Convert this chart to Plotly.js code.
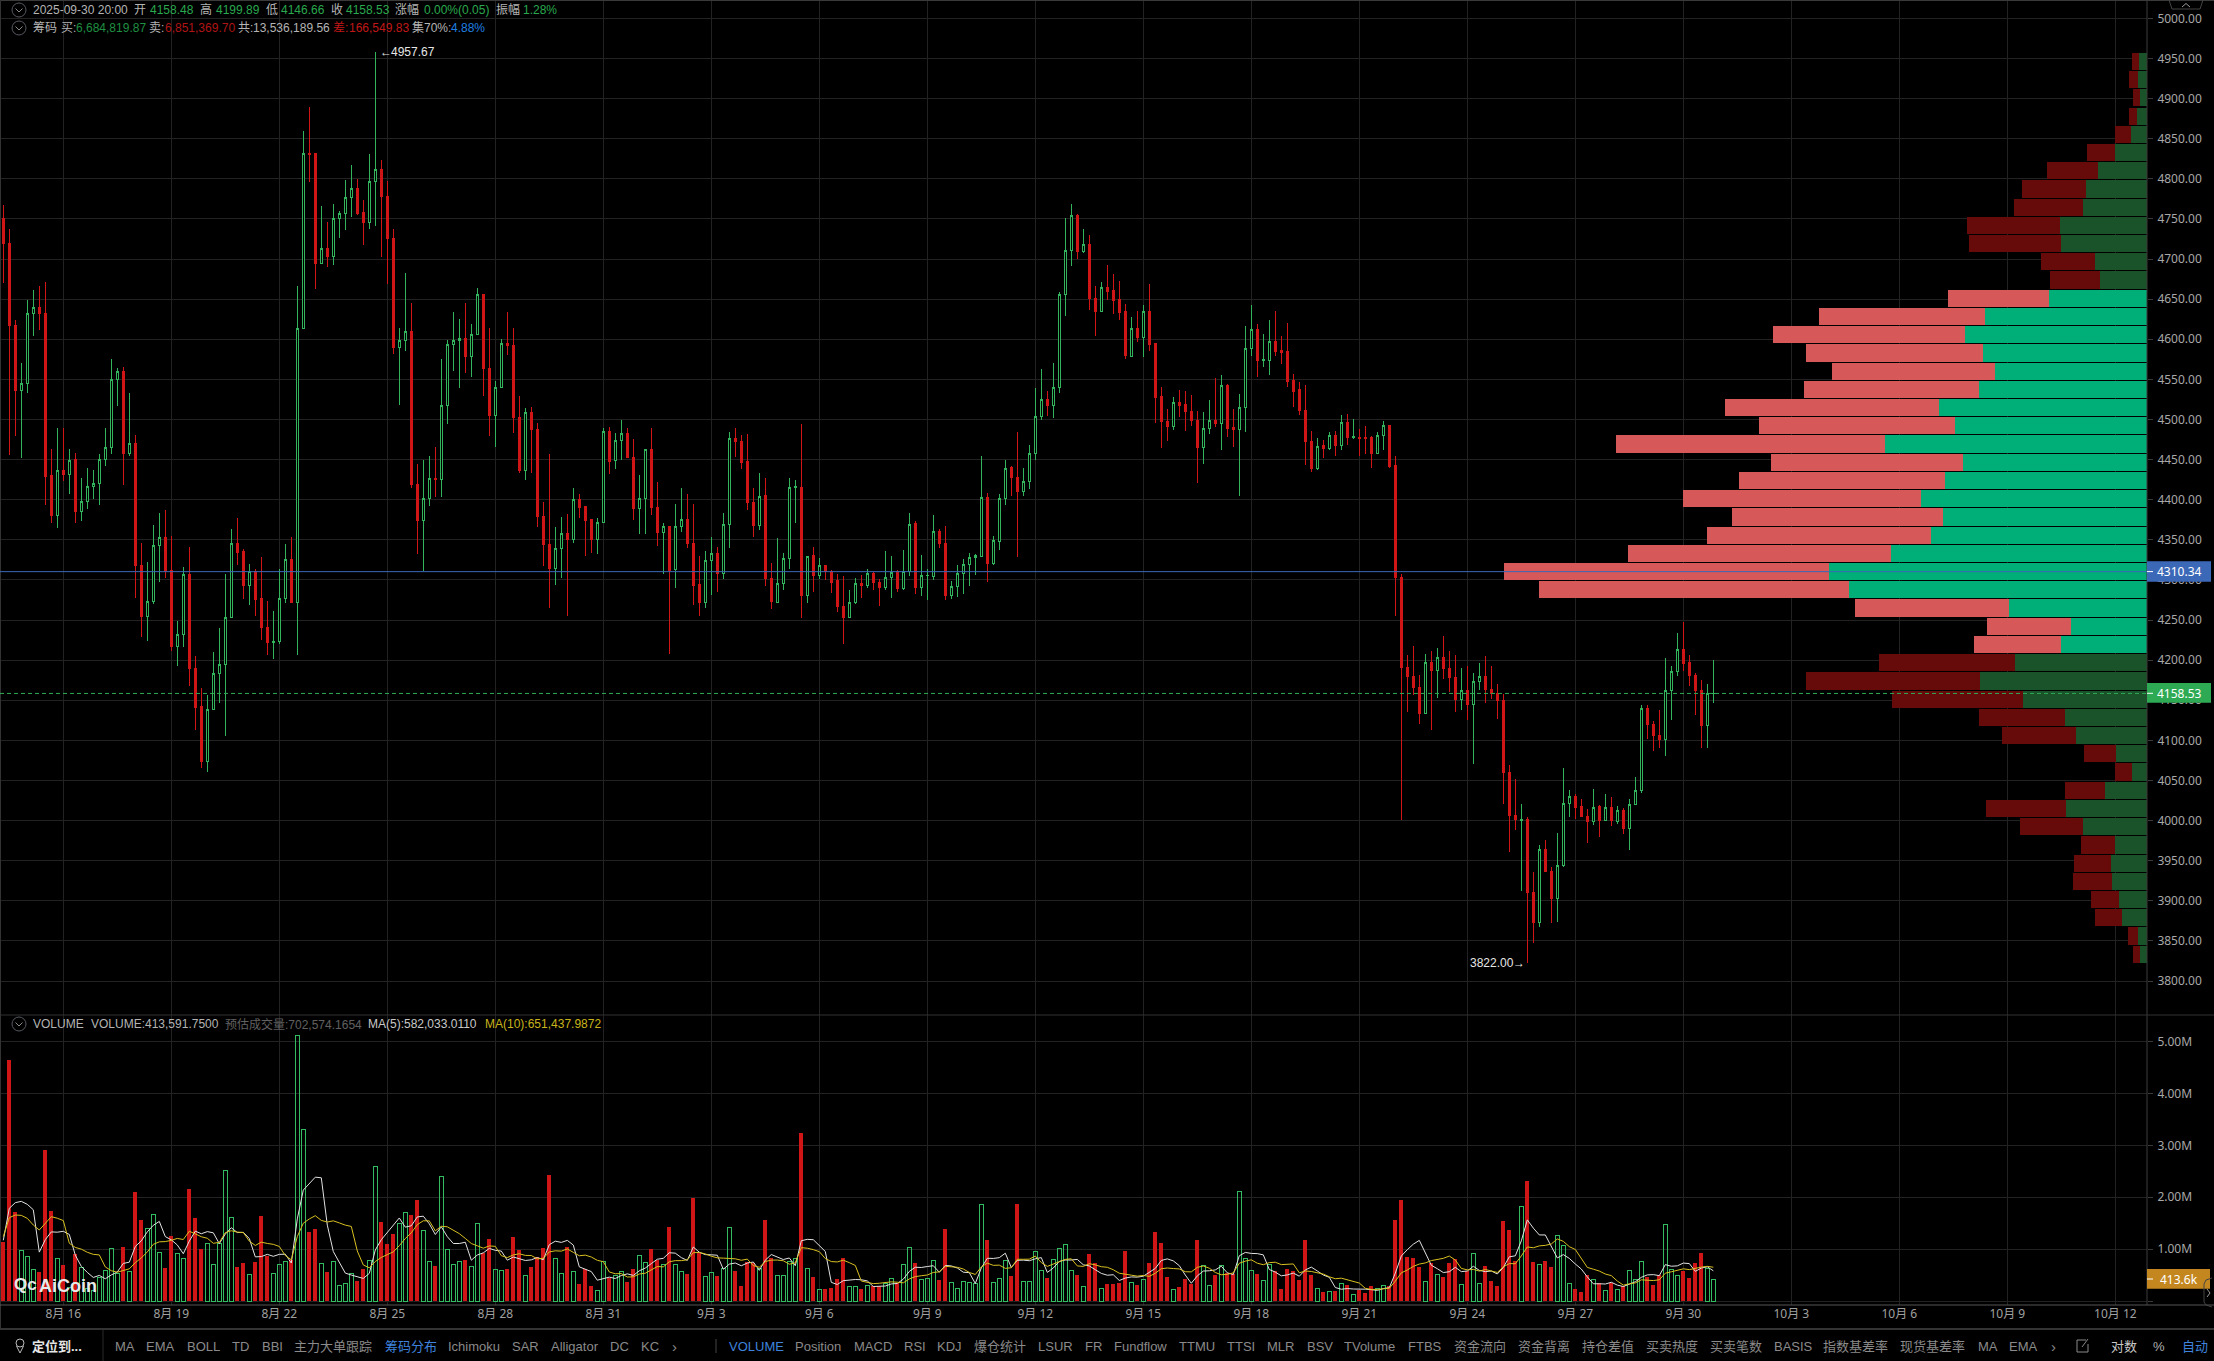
<!DOCTYPE html>
<html><head><meta charset="utf-8">
<script src="https://cdn.plot.ly/plotly-3.0.1.min.js"></script>
<style>html,body{margin:0;padding:0;background:#000;overflow:hidden}
.boxlayer path{shape-rendering:crispEdges !important}
.barlayer path{shape-rendering:crispEdges !important}</style>
</head><body><div id="chart" style="width:2214px;height:1361px"></div>
<script>
const opens=[
4750,4720,4617,4536,4545,4632,4640,4632,4430,4380,
4437,4431,4450,4385,4398,4417,4420,4450,4465,4550,
4560,4457,4470,4318,4254,4273,4343,4353,4312,4217,
4232,4307,4190,4142,4074,4138,4184,4194,4253,4345,
4335,4293,4310,4277,4241,4222,4223,4277,4326,4272,
4613,4832,4831,4694,4713,4703,4750,4757,4777,4788,
4758,4745,4797,4812,4778,4726,4590,4599,4610,4419,
4374,4401,4427,4425,4517,4594,4599,4601,4578,4606,
4656,4564,4505,4540,4595,4592,4503,4436,4509,4488,
4379,4344,4314,4339,4358,4350,4400,4391,4375,4351,
4372,4485,4449,4474,4483,4453,4389,4402,4462,4390,
4359,4367,4313,4366,4375,4346,4294,4272,4324,4333,
4308,4369,4476,4473,4448,4397,4368,4405,4302,4272,
4296,4327,4415,4415,4280,4330,4305,4318,4311,4299,
4267,4253,4272,4295,4293,4308,4297,4290,4303,4310,
4289,4310,4370,4290,4305,4304,4361,4346,4281,4292,
4308,4319,4328,4329,4403,4320,4348,4402,4440,4428,
4410,4423,4457,4504,4525,4518,4540,4656,4711,4754,
4709,4718,4651,4635,4665,4661,4649,4634,4579,4614,
4602,4635,4595,4529,4498,4491,4521,4519,4510,4499,
4465,4489,4499,4495,4543,4490,4488,4515,4588,4612,
4574,4574,4597,4586,4585,4548,4537,4511,4473,4439,
4467,4464,4480,4468,4496,4477,4478,4478,4477,4458,
4480,4493,4443,4303,4191,4180,4166,4134,4197,4187,
4203,4190,4179,4151,4162,4145,4174,4180,4163,4158,
4150,4060,4007,4000,4001,3911,3873,3964,3937,3903,
3944,4021,4030,4017,4005,3999,4017,4000,4016,3999,
4013,3990,4020,4038,4140,4120,4106,4101,4162,4186,
4213,4197,4181,4162,4118,4158.48];
const closes=[
4720,4617,4536,4545,4632,4640,4632,4429,4380,4437,
4431,4449,4385,4398,4417,4420,4450,4465,4550,4560,
4457,4470,4318,4254,4273,4343,4353,4311,4217,4232,
4307,4189,4141,4074,4139,4184,4194,4253,4345,4334,
4293,4310,4276,4241,4222,4223,4277,4326,4272,4614,
4832,4830,4694,4713,4703,4750,4757,4777,4788,4757,
4745,4797,4812,4778,4725,4590,4599,4610,4419,4374,
4401,4427,4425,4517,4594,4599,4601,4578,4606,4656,
4564,4505,4540,4595,4592,4502,4436,4509,4487,4379,
4344,4314,4339,4358,4350,4400,4390,4374,4351,4372,
4485,4448,4474,4483,4453,4389,4402,4462,4390,4359,
4367,4312,4366,4375,4345,4293,4272,4324,4333,4308,
4369,4476,4472,4447,4396,4368,4404,4302,4273,4296,
4327,4415,4417,4280,4329,4305,4318,4310,4297,4267,
4253,4272,4295,4293,4308,4297,4290,4303,4309,4289,
4310,4369,4290,4305,4306,4361,4345,4281,4292,4308,
4319,4328,4330,4403,4320,4349,4402,4439,4428,4410,
4423,4457,4504,4525,4518,4540,4656,4711,4754,4709,
4718,4651,4635,4665,4660,4648,4633,4580,4614,4602,
4635,4594,4528,4497,4491,4521,4518,4510,4499,4465,
4489,4499,4495,4543,4489,4487,4515,4588,4612,4574,
4575,4597,4585,4584,4547,4535,4511,4473,4439,4466,
4464,4480,4468,4496,4478,4479,4476,4476,4458,4480,
4493,4442,4303,4191,4180,4166,4134,4197,4187,4203,
4190,4179,4151,4162,4145,4174,4180,4163,4159,4150,
4060,4006,4001,4001,3911,3873,3964,3937,3903,3944,
4021,4030,4016,4005,3999,4016,4000,4016,4000,4013,
3990,4020,4038,4140,4120,4106,4101,4162,4186,4213,
4196,4181,4162,4118,4159,4158.53];
const highs=[
4767,4737,4624,4571,4649,4662,4666,4671,4463,4490,
4489,4463,4458,4427,4440,4437,4457,4489,4575,4564,
4565,4533,4481,4346,4322,4368,4384,4387,4355,4249,
4316,4341,4205,4165,4157,4210,4240,4307,4364,4377,
4339,4320,4314,4328,4274,4261,4314,4345,4354,4666,
4859,4889,4832,4766,4746,4769,4760,4798,4817,4800,
4774,4831,4957.67,4823,4797,4738,4614,4683,4645,4445,
4450,4455,4466,4576,4599,4634,4625,4645,4619,4664,
4656,4614,4548,4600,4634,4614,4529,4514,4516,4496,
4397,4457,4366,4379,4382,4415,4407,4392,4375,4377,
4489,4491,4483,4499,4489,4476,4431,4463,4490,4422,
4371,4367,4395,4415,4407,4395,4330,4336,4354,4341,
4384,4485,4489,4481,4482,4414,4433,4427,4321,4352,
4334,4427,4425,4495,4330,4341,4327,4319,4313,4307,
4305,4287,4303,4306,4314,4310,4301,4336,4330,4313,
4337,4383,4373,4331,4314,4381,4364,4367,4299,4319,
4326,4333,4332,4455,4408,4355,4407,4450,4442,4484,
4440,4468,4539,4563,4535,4570,4659,4751,4769,4756,
4738,4730,4666,4672,4692,4681,4673,4644,4628,4635,
4643,4669,4595,4540,4513,4528,4537,4535,4530,4511,
4509,4524,4552,4555,4544,4513,4532,4616,4643,4619,
4606,4624,4635,4604,4620,4557,4547,4543,4486,4477,
4475,4485,4486,4505,4507,4501,4488,4492,4479,4485,
4498,4493,4454,4308,4206,4218,4181,4208,4211,4215,
4230,4211,4206,4190,4193,4184,4197,4205,4193,4170,
4158,4069,4052,4021,4005,3936,3970,3976,3942,3985,
4066,4038,4033,4027,4014,4039,4019,4033,4030,4018,
4016,4027,4054,4144,4144,4124,4138,4203,4193,4234,
4248,4206,4184,4175,4170,4199.89];
const lows=[
4670,4456,4479,4452,4533,4604,4612,4393,4371,4365,
4423,4407,4371,4374,4388,4401,4393,4442,4457,4517,
4418,4455,4278,4229,4224,4270,4298,4303,4212,4193,
4217,4168,4113,4066,4061,4138,4147,4105,4252,4319,
4276,4269,4255,4225,4206,4202,4220,4271,4272,4206,
4613,4796,4663,4694,4690,4692,4726,4736,4753,4755,
4718,4738,4741,4703,4669,4582,4518,4585,4414,4332,
4311,4392,4403,4403,4495,4560,4539,4558,4553,4606,
4529,4479,4466,4539,4580,4483,4433,4425,4433,4366,
4317,4265,4294,4303,4255,4346,4377,4330,4334,4332,
4371,4432,4438,4449,4453,4375,4357,4357,4381,4342,
4308,4208,4290,4360,4340,4269,4255,4265,4281,4285,
4301,4340,4453,4438,4387,4354,4362,4292,4264,4271,
4287,4314,4371,4253,4271,4285,4301,4300,4284,4260,
4220,4252,4270,4278,4290,4287,4267,4288,4277,4285,
4287,4305,4283,4280,4275,4300,4340,4275,4276,4279,
4283,4293,4306,4329,4297,4319,4337,4394,4405,4329,
4405,4413,4449,4499,4504,4502,4533,4629,4691,4700,
4707,4636,4604,4635,4649,4632,4624,4575,4578,4597,
4578,4585,4496,4464,4473,4487,4503,4486,4492,4421,
4445,4482,4491,4462,4478,4466,4405,4485,4579,4553,
4565,4556,4579,4569,4540,4516,4506,4443,4434,4437,
4452,4462,4454,4462,4468,4476,4455,4457,4440,4457,
4462,4440,4255,4001,4136,4157,4121,4133,4113,4153,
4176,4160,4136,4138,4125,4070,4163,4146,4152,4127,
4021,3961,3988,3912,3822,3848,3867,3936,3872,3874,
3942,4004,4002,4004,3972,3994,3980,3999,3993,3996,
3983,3964,4020,4035,4102,4087,4091,4081,4126,4180,
4187,4168,4132,4091,4091,4146.66];
const volumes=[
1.137,4.64,1.71,.976,.854,.61,.559,2.91,1.728,.822,
.694,.263,.906,.649,.244,.21,.456,.584,1.015,.533,
1.034,.572,2.094,1.561,1.4,1.67,.938,.636,1.252,.906,
.822,2.158,1.593,1.002,1.111,.706,1.111,2.518,1.612,.649,
.726,.514,.751,1.638,.867,.533,.706,.764,.79,5.119,
3.308,1.329,1.387,.726,.559,.764,.302,.34,.533,.385,
.617,.784,2.595,1.522,1.098,1.291,1.496,1.708,1.657,1.946,
1.362,.764,.674,2.402,.996,.706,.764,.79,.674,1.496,
.918,1.188,.61,.597,.617,1.227,.983,.482,.655,.841,
1.021,2.428,.822,.533,1.034,.572,.328,.61,.289,.206,
.758,.437,.482,.572,.366,.61,.88,.745,1.002,.79,
.694,1.419,.706,.572,.52,1.985,.918,.475,.552,.482,
.629,1.419,.578,.289,.745,.726,.617,1.561,.829,.495,
.495,.764,.822,3.23,.629,.462,.225,.231,.25,.424,
.829,.283,.283,.231,.308,.289,.289,.328,.43,.353,
.706,1.034,.732,.405,.443,.784,.405,1.387,.36,.244,
.379,.36,.34,1.863,1.175,.36,.437,.771,.482,1.869,
.379,.379,.957,.597,.443,.803,1.015,1.092,.597,.501,
.283,.906,.726,.244,.328,.328,.347,.963,.353,.308,
.417,.732,1.329,1.118,.462,.225,.27,.424,.328,1.175,
.687,.302,.501,.687,.54,.52,2.113,.822,.591,.52,
.398,.706,.572,.231,.61,.572,.405,1.175,.501,.244,
.173,.186,.193,.34,.308,.128,.212,.154,.289,.244,
.302,.289,1.561,1.946,.848,.829,.655,.379,.732,.514,
.462,.732,.803,.321,.572,.918,.34,.674,.385,.289,
1.541,1.368,.771,1.824,2.312,.751,.706,.771,.655,1.265,
1.073,.34,.231,.173,.501,.417,.34,.206,.34,.225,
.283,.591,.417,.764,.462,.308,.495,1.477,.61,.495,
.578,.443,.732,.925,.617,.4136];
const ma5=[
1.17,1.786,1.895,1.92,1.863,1.758,.942,1.182,1.332,1.326,
1.343,1.283,.883,.667,.551,.454,.493,.429,.502,.56,
.724,.748,1.05,1.159,1.332,1.459,1.533,1.241,1.179,1.08,
.911,1.155,1.346,1.296,1.337,1.314,1.105,1.29,1.412,1.319,
1.323,1.204,.85,.856,.899,.861,.899,.902,.732,1.582,
2.137,2.262,2.387,2.374,1.462,.953,.748,.538,.5,.465,
.435,.532,.983,1.181,1.323,1.458,1.6,1.423,1.45,1.62,
1.634,1.487,1.281,1.43,1.24,1.108,1.108,1.132,.786,.886,
.928,1.013,.977,.962,.786,.848,.807,.781,.793,.838,
.796,1.085,1.153,1.129,1.168,1.078,.658,.615,.567,.401,
.438,.46,.434,.491,.523,.493,.582,.635,.721,.805,
.822,.93,.922,.836,.782,1.04,.94,.894,.89,.882,
.611,.711,.732,.679,.732,.751,.591,.788,.896,.846,
.799,.829,.681,1.161,1.188,1.181,1.074,.955,.359,.318,
.392,.403,.414,.41,.387,.279,.28,.289,.329,.338,
.421,.57,.651,.646,.664,.68,.554,.685,.676,.636,
.555,.546,.337,.637,.823,.82,.835,.921,.645,.784,
.788,.776,.813,.836,.551,.636,.763,.79,.79,.802,
.698,.676,.603,.532,.497,.506,.395,.442,.464,.46,
.478,.555,.628,.781,.812,.773,.681,.5,.342,.484,
.577,.583,.599,.67,.543,.51,.872,.936,.917,.913,
.889,.607,.557,.485,.503,.538,.478,.599,.653,.579,
.5,.456,.259,.227,.24,.231,.236,.228,.218,.205,
.24,.256,.537,.868,.989,1.095,1.168,.931,.689,.622,
.548,.564,.649,.566,.578,.669,.591,.565,.578,.521,
.646,.851,.871,1.159,1.563,1.405,1.273,1.273,1.039,.83,
.894,.821,.713,.616,.464,.332,.332,.327,.361,.306,
.279,.329,.371,.456,.503,.508,.489,.701,.67,.677,
.731,.721,.572,.635,.659,.582];
const ma10=[
1.24,1.606,1.657,1.65,1.593,1.464,1.368,1.496,1.625,1.595,
1.55,1.113,1.032,1,.939,.899,.888,.656,.584,.555,
.589,.62,.739,.83,.946,1.092,1.14,1.145,1.169,1.206,
1.185,1.344,1.294,1.238,1.209,1.112,1.13,1.318,1.354,1.328,
1.319,1.154,1.07,1.134,1.109,1.092,1.051,.876,.794,1.241,
1.499,1.581,1.644,1.553,1.522,1.545,1.505,1.462,1.437,.963,
.694,.64,.761,.84,.894,.947,1.066,1.203,1.315,1.471,
1.546,1.544,1.352,1.44,1.43,1.371,1.298,1.206,1.108,1.063,
1.018,1.061,1.054,.874,.836,.888,.91,.879,.877,.812,
.822,.946,.967,.961,1.003,.937,.872,.884,.848,.784,
.758,.559,.525,.529,.462,.466,.521,.535,.606,.664,
.658,.756,.778,.778,.794,.931,.935,.908,.863,.832,
.826,.826,.813,.785,.807,.681,.651,.76,.788,.789,
.775,.71,.734,1.028,1.017,.99,.951,.818,.76,.753,
.787,.739,.685,.385,.353,.335,.342,.351,.369,.362,
.35,.425,.47,.487,.501,.55,.562,.668,.661,.65,
.617,.55,.511,.657,.73,.687,.691,.629,.641,.804,
.804,.806,.867,.741,.667,.712,.77,.802,.813,.676,
.667,.719,.696,.661,.65,.602,.535,.522,.498,.479,
.492,.475,.535,.622,.636,.625,.618,.564,.561,.648,
.675,.632,.549,.506,.514,.543,.728,.768,.794,.728,
.699,.74,.747,.701,.708,.714,.543,.578,.569,.541,
.519,.467,.429,.44,.41,.365,.346,.244,.223,.223,
.236,.246,.383,.543,.597,.667,.712,.734,.779,.806,
.822,.866,.79,.628,.6,.609,.577,.607,.572,.55,
.658,.721,.718,.868,1.042,1.026,1.062,1.072,1.099,1.196,
1.15,1.047,.993,.828,.647,.613,.577,.52,.489,.385,
.306,.331,.349,.408,.405,.394,.409,.536,.563,.59,
.62,.605,.636,.653,.668,.651];
const chipPrices=[4946.3,4923.6,4900.9,4878.2,4855.5,4832.8,4810,4787.3,4764.6,4741.9,
4719.2,4696.5,4673.8,4651.1,4628.4,4605.6,4582.9,4560.2,4537.5,4514.8,
4492.1,4469.4,4446.7,4424,4401.2,4378.5,4355.8,4333.1,4310.4,4287.7,
4265,4242.3,4219.6,4196.8,4174.1,4151.4,4128.7,4106,4083.3,4060.6,
4037.9,4015.2,3992.4,3969.7,3947,3924.3,3901.6,3878.9,3856.2,3833.4];
const chipBuy=[10.5,11.7,9.2,13,20.5,39.8,62,77.1,80.9,109.8,
108.5,65.8,59.5,123.6,204.1,229.2,205.7,191.5,210.8,261.9,
241.8,328.9,230.9,254.3,284.5,256,271.1,322.2,400.1,374.2,
173,96,107.7,166.3,210.3,156.3,102.7,89.7,38.5,19.3,
53.2,102.2,80.9,40.6,45.7,44.4,35.6,31.8,11.7,9.2];
const chipSell=[8.8,11.3,8.8,10.1,19.3,36,64.1,80.4,86.7,116.9,
115.6,67.9,62.9,127,208.7,241.3,223.3,204.9,220.8,268.2,
246.4,338.1,242.2,258.1,299.2,265.2,282.4,330.6,408.5,390.5,
194.4,105.6,110.2,171,218.7,164.7,108.9,93,41.1,21.4,
50.3,100.6,79.2,42.7,46.5,49,35.2,33.9,12.6,8.8];
const priceTicks=[3800,3850,3900,3950,4000,4050,4100,4150,4200,4250,4300,4350,4400,4450,4500,4550,4600,4650,4700,4750,4800,4850,4900,4950,5000];
const volTicks=[0,1,2,3,4,5];
const volTickLabels=['','1.00M','2.00M','3.00M','4.00M','5.00M'];
const dateTicks=['2025-08-16','2025-08-19','2025-08-22','2025-08-25','2025-08-28','2025-08-31','2025-09-03','2025-09-06','2025-09-09','2025-09-12','2025-09-15','2025-09-18','2025-09-21','2025-09-24','2025-09-27','2025-09-30','2025-10-03','2025-10-06','2025-10-09','2025-10-12'];
const dateLabels=['8月 16','8月 19','8月 22','8月 25','8月 28','8月 31','9月 3','9月 6','9月 9','9月 12','9月 15','9月 18','9月 21','9月 24','9月 27','9月 30','10月 3','10月 6','10月 9','10月 12'];
const lastPrice=4158.53, markPrice=4310.34, highPrice=4957.67, lowPrice=3822;
const toolbarLeft=[['MA',114],['EMA',145.4],['BOLL',185.7],['TD',231],['BBI',260.7],['主力大单跟踪',293.4],['筹码分布',384,'#3f83dd'],['Ichimoku',447],['SAR',511],['Alligator',550],['DC',609],['KC',640],['VOLUME',727.6,'#3f83dd'],['Position',794],['MACD',852.6],['RSI',903],['KDJ',935.7],['爆仓统计',972.5],['LSUR',1036.8],['FR',1083.7],['Fundflow',1112.8],['TTMU',1178],['TTSI',1226],['MLR',1265.8],['BSV',1305.6],['TVolume',1343.4],['FTBS',1407],['资金流向',1452.6],['资金背离',1516.5],['持仓差值',1580.5],['买卖热度',1644.7],['买卖笔数',1708.5],['BASIS',1772.7],['指数基差率',1822.3],['现货基差率',1898.8],['MA',1976.7],['EMA',2008],['对数',2109.7,'#c8c8c8'],['%',2151.5,'#b0b0b0'],['自动',2180.7,'#3f83dd']];

const UP='#33b35c', DOWN='#cf1515', GRID='#222222';
const W=2147,H=1305;
const FONT='"Liberation Sans","Noto Sans CJK SC",sans-serif';
const AXF='"Noto Sans","Noto Sans CJK SC",sans-serif';
const px=x=>x/W, py=y=>(H-y)/H;
const t0=Date.UTC(2025,7,14,8);
const times=opens.map((_,i)=>new Date(t0+i*14400000).toISOString().slice(0,16).replace('T',' '));
const isUp=opens.map((o,i)=>closes[i]>=o);
const inValueArea=chipPrices.map(p=>p>4205&&p<4660);

const data=[
{type:'candlestick',x:times,open:opens,high:highs,low:lows,close:closes,xaxis:'x',yaxis:'y',hoverinfo:'skip',whiskerwidth:0,
 increasing:{line:{color:UP,width:1},fillcolor:'#000000'},decreasing:{line:{color:DOWN,width:1},fillcolor:DOWN}},
{type:'bar',x:times,y:volumes,xaxis:'x',yaxis:'y2',hoverinfo:'skip',width:isUp.map(u=>u?8400000:9600000),
 marker:{color:isUp.map(u=>u?'rgba(0,0,0,0)':DOWN),line:{color:isUp.map(u=>u?'#33bb62':DOWN),width:isUp.map(u=>u?1:0)}}},
{type:'scatter',mode:'lines',x:times,y:ma5,xaxis:'x',yaxis:'y2',hoverinfo:'skip',line:{color:'#e2e2e2',width:1}},
{type:'scatter',mode:'lines',x:times,y:ma10,xaxis:'x',yaxis:'y2',hoverinfo:'skip',line:{color:'#d8c020',width:1}},
{type:'bar',orientation:'h',y:chipPrices,x:chipBuy,xaxis:'x3',yaxis:'y',width:21.4,hoverinfo:'skip',
 marker:{color:inValueArea.map(a=>a?'#00ae78':'#1a5229'),line:{width:0}}},
{type:'bar',orientation:'h',y:chipPrices,x:chipSell,xaxis:'x3',yaxis:'y',width:21.4,hoverinfo:'skip',
 marker:{color:inValueArea.map(a=>a?'#d65858':'#660a0a'),line:{width:0}}}
];

const ann=[];
function T(x,y,text,color,size,family){ann.push({xref:'paper',yref:'paper',x:px(x),y:py(y),text:text,showarrow:false,xanchor:'left',yanchor:'middle',align:'left',borderpad:0,
 font:{family:family||FONT,size:size||12,color:color||'#b4b4b4'}});}
const G='#2aa84e',R='#c01818',L='#b4b4b4';
[[32,'2025-09-30 20:00',L],[133.4,'开',L],[148.5,'4158.48',G],[198.7,'高',L],[214.5,'4199.89',G],[264.7,'低',L],[279.7,'4146.66',G],[330.4,'收',L],[345,'4158.53',G],[394.4,'涨幅',L],[422.5,'0.00%(0.05)',G],[494.5,'振幅',L],[522,'1.28%',G]].forEach(a=>T(a[0],10,a[1],a[2]));
[[32,'筹码',L],[59.5,'买:',L],[74.9,'6,684,819.87','#1f8f42'],[148,'卖:',L],[163.5,'6,851,369.70','#b01515'],[237,'共:',L],[252,'13,536,189.56',L],[332.3,'差:','#c01818'],[347.7,'166,549.83','#c01818'],[411,'集70%:',L],[450,'4.88%','#1f7fe0']].forEach(a=>T(a[0],28,a[1],a[2]));
[[32,'VOLUME',L],[89.8,'VOLUME:413,591.7500',L],[223.5,'预估成交量:702,574.1654','#606060'],[367.4,'MA(5):582,033.0110','#c8c8c8'],[483.7,'MA(10):651,437.9872','#c9b31c']].forEach(a=>T(a[0],1024,a[1],a[2]));
toolbarLeft.forEach(a=>T(a[1],1346,a[0],a[2]||'#8a8a8a',13));
T(30.6,1346,'<b>定位到...</b>','#e6e6e6',13);
T(671.4,1346,'›','#8a8a8a',15);T(2050,1346,'›','#8a8a8a',15);
T(2156,571.6,'4310.34','#ffffff',12,AXF);
T(2156,693.2,'4158.53','#ffffff',12,AXF);
T(2159,1279,'413.6k','#ffffff',12,AXF);
T(38,1286,'<b>AiCoin</b>','#e8e8e8',18);
T(13,1284,'<b>Qc</b>','#e8e8e8',17);
function mark(i,y,text,anchor,shift){ann.push({xref:'x',yref:'y',x:times[i],y:y,text:text,showarrow:false,xanchor:anchor,yanchor:'middle',xshift:shift,borderpad:0,font:{family:FONT,size:12,color:'#e6e6e6'}});}
mark(62,highPrice,'←','left',4);mark(62,highPrice,'4957.67','left',15);
mark(254,lowPrice,'3822.00','right',-12);mark(254,lowPrice,'→','right',-1);

function line(x0,y0,x1,y1,c,w){return {type:'line',xref:'paper',yref:'paper',x0:px(x0),y0:py(y0),x1:px(x1),y1:py(y1),line:{color:c,width:w||1},layer:'above'};}
function rect(x0,y0,x1,y1,c){return {type:'rect',xref:'paper',yref:'paper',x0:px(x0),y0:py(y0),x1:px(x1),y1:py(y1),fillcolor:c,line:{width:0},layer:'above'};}
function path(pts,c){return {type:'path',xref:'paper',yref:'paper',path:pts.map((p,i)=>(i?'L':'M')+px(p[0])+' '+py(p[1])).join(' '),line:{color:c,width:1},layer:'above'};}
function circ(x,y,r,c){return {type:'circle',xref:'paper',yref:'paper',x0:px(x-r),x1:px(x+r),y0:py(y+r),y1:py(y-r),line:{color:c,width:1},layer:'above'};}
const shapes=[
 line(0,0.5,2214,0.5,'#3a3a3a'),line(0.5,0,0.5,1329,'#333333'),line(W,0,W,1305,'#3c3c3c'),
 line(0,1015,2214,1015,'#333333'),line(0,1305,2214,1305,'#555555'),line(0,1329,2214,1329,'#333333',2),
 line(103,1330,103,1361,'#2a2a2a'),line(716,1339,716,1353,'#444444'),
 {type:'line',xref:'paper',yref:'y',x0:0,x1:1,y0:markPrice,y1:markPrice,line:{color:'#3c68b8',width:1},layer:'above'},
 {type:'line',xref:'paper',yref:'y',x0:0,x1:1,y0:lastPrice,y1:lastPrice,line:{color:'#2eaa55',width:1,dash:'4px,3px'},layer:'above'},
 rect(W,561.3,2211,581.7,'#3c68b8'),line(W,571.6,2153,571.6,'#ffffff'),
 rect(W,683,2211,702.7,'#2eaa55'),line(W,693.3,2153,693.3,'#ffffff'),
 rect(W,1269,2210,1288.7,'#c4871f'),line(W,1279,2153,1279,'#ffffff'),
 circ(19,10,7,'#55585f'),path([[15.5,8.5],[19,12],[22.5,8.5]],'#8a8a8a'),
 circ(19,28,7,'#55585f'),path([[15.5,26.5],[19,30],[22.5,26.5]],'#8a8a8a'),
 circ(19,1024,7,'#55585f'),path([[15.5,1022.5],[19,1026],[22.5,1022.5]],'#8a8a8a'),
 path([[2169,0],[2172,9],[2200,9],[2203,0]],'#444444'),path([[2182,7],[2186,3.5],[2190,7]],'#999999'),
 path([[2212,1278],[2206,1280],[2204,1284],[2204,1302],[2206,1305],[2212,1307]],'#444444'),path([[2207,1289],[2210,1293],[2207,1297]],'#999999'),
 circ(20,1343,4,'#b8b8b8'),path([[16.5,1346],[20,1353],[23.5,1346]],'#b8b8b8'),
 path([[2086,1340],[2077,1340],[2077,1352],[2088,1352],[2088,1344]],'#8a8a8a'),path([[2082,1347],[2088,1339]],'#8a8a8a')
];

const layout={
 width:2214,height:1361,autosize:false,margin:{l:0,r:67,t:0,b:56,pad:0},
 paper_bgcolor:'#000000',plot_bgcolor:'#000000',showlegend:false,hovermode:false,dragmode:false,
 barmode:'stack',boxgap:0.45,
 xaxis:{type:'date',anchor:'y2',domain:[0,1],range:['2025-08-14 05:48','2025-10-12 21:07'],rangeslider:{visible:false},
  tickmode:'array',tickvals:dateTicks,ticktext:dateLabels,showgrid:true,gridcolor:GRID,gridwidth:1,ticks:'',zeroline:false,showline:false,
  tickfont:{family:AXF,size:12,color:'#a0a0a0'}},
 xaxis3:{overlaying:'x',anchor:'y',side:'top',range:[2699,0],visible:false,fixedrange:true},
 yaxis:{anchor:'x',side:'right',domain:[290/1305,1],range:[3757.7,5022.9],tickmode:'array',tickvals:priceTicks,ticktext:priceTicks.map(v=>v.toFixed(2)),
  showgrid:true,gridcolor:GRID,gridwidth:1,zeroline:false,showline:false,ticks:'outside',ticklen:5,tickcolor:'#3a3a3a',ticklabelstandoff:2,
  tickfont:{family:AXF,size:12,color:'#a8a8a8'}},
 yaxis2:{anchor:'x',side:'right',domain:[0,290/1305],range:[-0.077,5.511],tickmode:'array',tickvals:volTicks,ticktext:volTickLabels,
  showgrid:true,gridcolor:GRID,gridwidth:1,zeroline:false,showline:false,ticks:'outside',ticklen:5,tickcolor:'#3a3a3a',ticklabelstandoff:2,
  tickfont:{family:AXF,size:12,color:'#a8a8a8'}},
 annotations:ann,shapes:shapes
};
Plotly.newPlot('chart',data,layout,{displayModeBar:false,staticPlot:true,responsive:false});
</script></body></html>
